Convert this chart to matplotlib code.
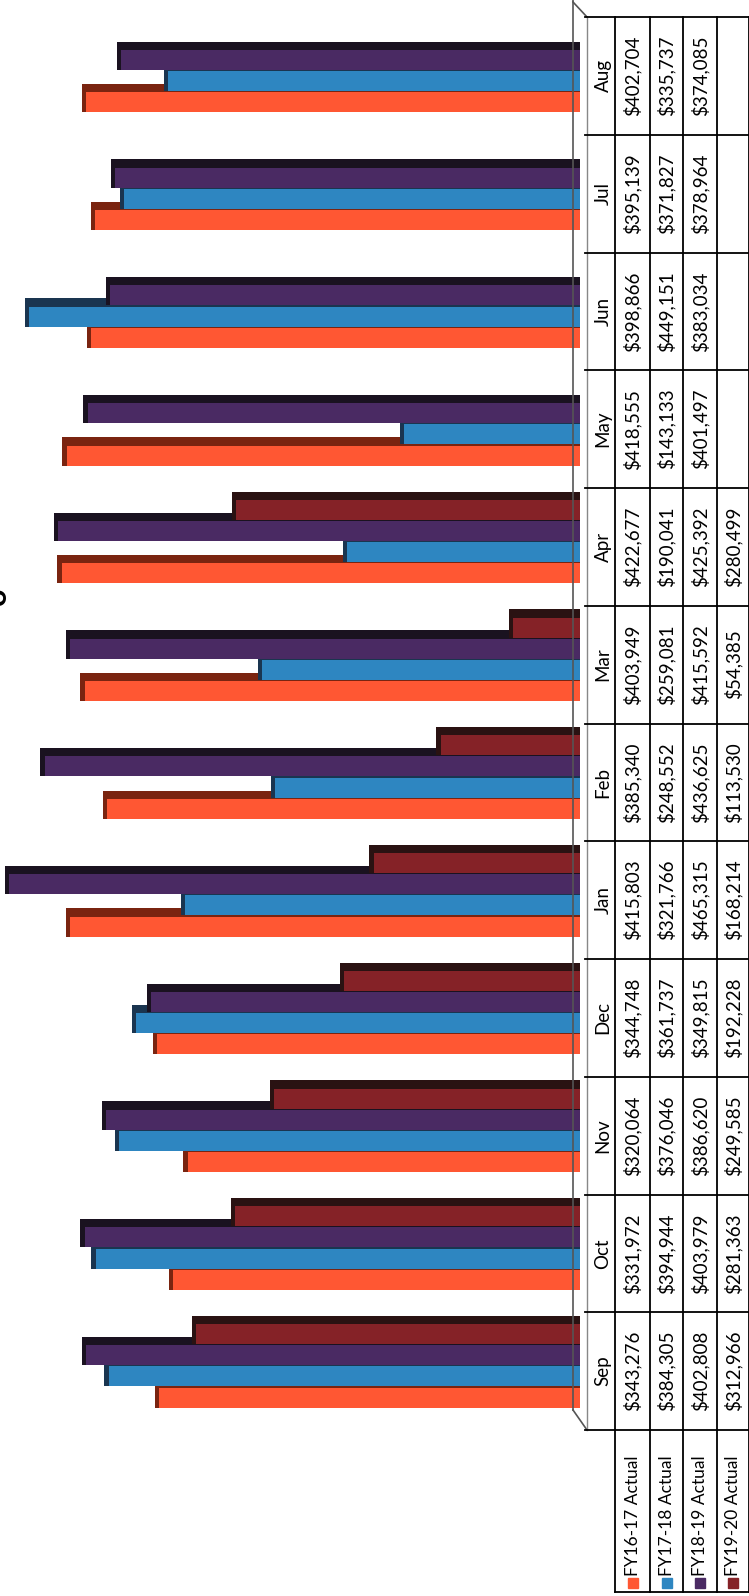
import matplotlib.pyplot as plt
from matplotlib.patches import Rectangle
from matplotlib.lines import Line2D

plt.rcParams['font.family'] = ['Lato', 'DejaVu Sans']

# data
months = ["Sep", "Oct", "Nov", "Dec", "Jan", "Feb", "Mar", "Apr", "May", "Jun", "Jul", "Aug"]
series = ["FY16-17 Actual", "FY17-18 Actual", "FY18-19 Actual", "FY19-20 Actual"]
fy1617 = [343276, 331972, 320064, 344748, 415803, 385340, 403949, 422677, 418555, 398866, 395139, 402704]
fy1718 = [384305, 394944, 376046, 361737, 321766, 248552, 259081, 190041, 143133, 449151, 371827, 335737]
fy1819 = [402808, 403979, 386620, 349815, 465315, 436625, 415592, 425392, 401497, 383034, 378964, 374085]
fy1920 = [312966, 281363, 249585, 192228, 168214, 113530, 54385, 280499, None, None, None, None]

colors = ["#FF5733", "#2E86C1", "#4A2A63", "#852227"]
darks = ["#7a2410", "#1a3550", "#1a1220", "#2a1212"]

W, H = 749, 1596
fig = plt.figure(figsize=(W / 100, H / 100), dpi=100)

def fx(x):
    return x / W

def fy(y):
    return 1 - y / H

top, bottom, base = 17, 1430, 580
ax = fig.add_axes([0, fy(bottom), fx(base), (bottom - top) / H])
ax.set_xlim(473000, 0)
ax.set_ylim(-0.5, 11.5)
ax.axis("off")

offsets = [-0.225, -0.045, 0.135, 0.315]
bh = 0.17
sh_y = 0.07
sh_x = 3500
all_data = [fy1617, fy1718, fy1819, fy1920]
ypos = list(range(len(months)))

for k, vals in enumerate(all_data):
    yy = [y + offsets[k] for y in ypos if vals[y] is not None]
    vv = [v for v in vals if v is not None]
    # 3d shadow face, then the bar itself
    ax.barh([y + sh_y / 2 for y in yy], [v + sh_x for v in vv], height=bh + sh_y,
            color=darks[k], linewidth=0)
    ax.barh(yy, vv, height=bh, color=colors[k], linewidth=0)

# wall / floor lines
fig.add_artist(Line2D([fx(573), fx(573)], [fy(0), fy(1410)], color="#555555", lw=1.2))
fig.add_artist(Line2D([fx(573), fx(587)], [fy(1410), fy(1430)], color="#555555", lw=1.2))
fig.add_artist(Line2D([fx(573), fx(587)], [fy(2), fy(17)], color="#555555", lw=1.2))

# data table
cols = [587, 615, 650, 683, 717, 749]
slot = (bottom - top) / 12.0
for c in cols[1:]:
    fig.add_artist(Line2D([fx(c), fx(c)], [fy(top), fy(bottom)], color="black", lw=1.3))
fig.add_artist(Line2D([fx(587), fx(587)], [fy(top), fy(bottom)], color="#888888", lw=1.0))
for i in range(13):
    y = top + i * slot
    fig.add_artist(Line2D([fx(585), fx(W)], [fy(y), fy(y)], color="black", lw=1.3))

tfont = 13.5
for i, m in enumerate(months):
    yc = bottom - (i + 0.5) * slot
    fig.text(fx((cols[0] + cols[1]) / 2 + 2), fy(yc), m, rotation=90,
             ha="center", va="center", fontsize=tfont)
    for k, vals in enumerate(all_data):
        if vals[i] is None:
            continue
        fig.text(fx((cols[k + 1] + cols[k + 2]) / 2), fy(yc), "${:,}".format(vals[i]),
                 rotation=90, ha="center", va="center", fontsize=tfont)

# legend cells under the table
leg_bottom = 1592
for c in cols[1:]:
    fig.add_artist(Line2D([fx(c), fx(c)], [fy(bottom), fy(leg_bottom)], color="black", lw=1.3))
fig.add_artist(Line2D([fx(cols[1]), fx(W)], [fy(leg_bottom), fy(leg_bottom)], color="black", lw=1.3))
for k, name in enumerate(series):
    xc = (cols[k + 1] + cols[k + 2]) / 2
    fig.add_artist(Rectangle((fx(xc - 5), fy(1588)), 10 / W, 10 / H, color=colors[k]))
    fig.text(fx(xc), fy(1576), name, rotation=90, ha="center", va="bottom", fontsize=12.5)

# clipped title letter at the left edge
fig.text(fx(-3), fy(596), "o", rotation=90, ha="center", va="center",
         fontsize=22, fontweight="bold")

fig.savefig("out.png", dpi=100)
